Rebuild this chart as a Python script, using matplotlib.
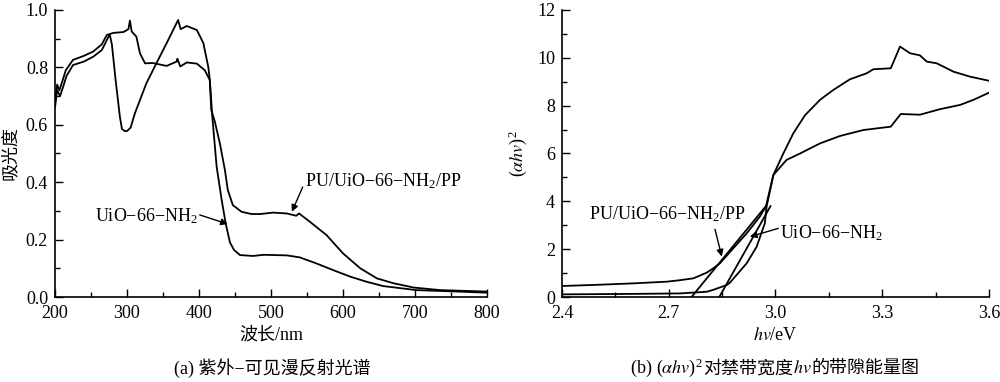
import matplotlib
matplotlib.use('Agg')
import matplotlib.pyplot as plt
from matplotlib.offsetbox import TextArea, HPacker, AnchoredOffsetbox
import numpy as np

plt.rcParams['font.family'] = ['Liberation Serif', 'Noto Sans CJK SC']
plt.rcParams['mathtext.fontset'] = 'stix'
plt.rcParams['mathtext.default'] = 'regular'
plt.rcParams['font.size'] = 13

# (a) UV-vis diffuse reflectance
wl_a = [200, 203, 206, 210, 215, 225, 240, 253, 265, 272, 276, 281, 295, 302, 304, 306.5,
        313, 318, 325, 336, 355, 369, 370, 374, 383, 397, 408, 415, 417, 422, 429, 436,
        440, 447, 459, 473, 485, 503, 522, 535, 539, 554, 577, 600, 624, 647, 670, 698,
        735, 800]
abs_a = [0.68, 0.74, 0.72, 0.75, 0.79, 0.826, 0.84, 0.855, 0.88, 0.913, 0.916, 0.92, 0.923,
         0.933, 0.963, 0.925, 0.907, 0.849, 0.814, 0.815, 0.805, 0.82, 0.83, 0.803, 0.817,
         0.813, 0.79, 0.756, 0.652, 0.611, 0.535, 0.442, 0.373, 0.32, 0.297, 0.289, 0.289,
         0.294, 0.291, 0.283, 0.291, 0.262, 0.216, 0.152, 0.10, 0.065, 0.048, 0.033, 0.024,
         0.019]

wl_b = [200, 203, 207, 211, 216, 225, 240, 253, 265, 272, 276, 279, 284, 290, 293, 297,
        300, 305, 311, 327, 341, 355, 371, 374.5, 383, 397, 406, 413, 415, 418.5, 424.5,
        431.5, 437, 443, 448.6, 457, 475, 490, 522, 540, 563, 586, 610, 633, 656, 702,
        748, 800]
abs_b = [0.66, 0.72, 0.70, 0.73, 0.77, 0.808, 0.82, 0.837, 0.86, 0.895, 0.915, 0.88, 0.76,
         0.63, 0.585, 0.578, 0.578, 0.59, 0.64, 0.745, 0.815, 0.884, 0.965, 0.933, 0.944,
         0.93, 0.885, 0.80, 0.756, 0.628, 0.454, 0.338, 0.257, 0.19, 0.164, 0.146, 0.143,
         0.147, 0.145, 0.138, 0.117, 0.094, 0.071, 0.053, 0.038, 0.024, 0.02, 0.015]

# (b) (ahv)^2 vs hv
ev_pu = [2.40, 2.50, 2.60, 2.694, 2.73, 2.769, 2.807, 2.825, 2.844, 2.881, 2.919, 2.956,
         2.973, 2.994, 3.022, 3.05, 3.083, 3.125, 3.162, 3.209, 3.256, 3.275, 3.324, 3.35,
         3.378, 3.406, 3.425, 3.453, 3.50, 3.547, 3.60]
y_pu = [0.46, 0.51, 0.57, 0.64, 0.70, 0.78, 1.02, 1.2, 1.41, 2.03, 2.66, 3.36, 3.78, 5.1,
        6.0, 6.84, 7.6, 8.24, 8.65, 9.1, 9.35, 9.52, 9.56, 10.47, 10.19, 10.1, 9.84, 9.77,
        9.42, 9.21, 9.04]

ev_uio = [2.40, 2.50, 2.60, 2.732, 2.807, 2.825, 2.863, 2.872, 2.919, 2.947, 2.97, 2.975,
          2.994, 3.031, 3.069, 3.125, 3.181, 3.247, 3.324, 3.352, 3.406, 3.462, 3.519,
          3.556, 3.60]
y_uio = [0.11, 0.12, 0.13, 0.15, 0.22, 0.3, 0.5, 0.6, 1.41, 2.1, 3.08, 3.78, 5.1, 5.73,
         6.0, 6.42, 6.73, 6.98, 7.12, 7.65, 7.62, 7.85, 8.03, 8.24, 8.54]

# tangent lines (x-intercept -> end point)
tan_pu_x = [2.764, 2.973]
tan_pu_y = [0, 3.80]
tan_uio_x = [2.842, 2.986]
tan_uio_y = [0, 3.80]

fig = plt.figure(figsize=(10, 3.82), dpi=100)
ax1 = fig.add_axes([0.055, 0.2225, 0.432, 0.7515])
ax2 = fig.add_axes([0.562, 0.2225, 0.427, 0.7515])

lw = 1.3
ax1.plot(wl_a, abs_a, color='k', lw=lw)
ax1.plot(wl_b, abs_b, color='k', lw=lw)
ax1.set_xlim(200, 800)
ax1.set_ylim(0, 1.0)
ax1.set_xticks(np.arange(200, 801, 100))
ax1.set_xticks(np.arange(200, 801, 50), minor=True)
ax1.set_yticks(np.arange(0, 1.01, 0.2))
ax1.set_yticks(np.arange(0, 1.01, 0.1), minor=True)
ax1.yaxis.set_major_formatter(matplotlib.ticker.FormatStrFormatter('%.1f'))
ax1.set_xlabel('波长/nm', labelpad=3)
ax1.set_ylabel('吸光度', labelpad=5)

arr = dict(arrowstyle='-|>', color='k', lw=1, mutation_scale=10, shrinkA=0, shrinkB=0)

# labels and arrows for panel (a)
ax1.text(547, 0.404, 'PU/UiO−66−NH$_2$/PP', ha='left', va='center')
ax1.annotate('', xy=(529, 0.297), xytext=(544, 0.383), arrowprops=arr)
ax1.text(399, 0.283, 'UiO−66−NH$_2$', ha='right', va='center')
ax1.annotate('', xy=(440, 0.254), xytext=(401, 0.286), arrowprops=arr)

ax2.plot(ev_pu, y_pu, color='k', lw=lw)
ax2.plot(ev_uio, y_uio, color='k', lw=lw)
ax2.plot(tan_pu_x, tan_pu_y, color='k', lw=lw)
ax2.plot(tan_uio_x, tan_uio_y, color='k', lw=lw)
ax2.set_xlim(2.4, 3.6)
ax2.set_ylim(0, 12)
ax2.set_xticks(np.arange(2.4, 3.61, 0.3))
ax2.set_xticks(np.arange(2.4, 3.61, 0.15), minor=True)
ax2.set_yticks(np.arange(0, 12.1, 2))
ax2.set_yticks(np.arange(0, 12.1, 1), minor=True)
ax2.xaxis.set_major_formatter(matplotlib.ticker.FormatStrFormatter('%.1f'))
ax2.set_xlabel(r'$\mathit{hv}$/eV', labelpad=3)
ax2.set_ylabel(r'$(\mathit{\alpha hv})^2$', labelpad=6)

# labels and arrows for panel (b)
ax2.text(2.695, 3.45, 'PU/UiO−66−NH$_2$/PP', ha='center', va='center')
ax2.annotate('', xy=(2.849, 1.69), xytext=(2.83, 2.83), arrowprops=arr)
ax2.text(3.012, 2.68, 'UiO−66−NH$_2$', ha='left', va='center')
ax2.annotate('', xy=(2.928, 2.52), xytext=(3.008, 2.87), arrowprops=arr)

for ax in (ax1, ax2):
    ax.spines['top'].set_visible(False)
    ax.spines['right'].set_visible(False)
    ax.spines['left'].set_linewidth(1.2)
    ax.spines['bottom'].set_linewidth(1.2)
    ax.tick_params(which='major', direction='in', length=6, width=1, labelsize=13)
    ax.tick_params(which='minor', direction='in', length=3.5, width=1)
    ax.tick_params(axis='x', which='major', pad=6)
    ax.tick_params(axis='y', which='major', pad=5)

fig.text(0.272, 1 - 368 / 382, '(a) 紫外−可见漫反射光谱', ha='center', va='center')

# caption (b): mix of mathtext and CJK text, packed side by side
parts = ['(b) ', r'$(\mathit{\alpha hv})^2$', '对禁带宽度', r'$\mathit{hv}$', '的带隙能量图']
boxes = [TextArea(p, textprops=dict(fontsize=13)) for p in parts]
pack = HPacker(children=boxes, align='baseline', pad=0, sep=0)
cap = AnchoredOffsetbox(loc='center', child=pack, frameon=False, pad=0, borderpad=0,
                        bbox_to_anchor=(0.775, 1 - 368 / 382),
                        bbox_transform=fig.transFigure)
fig.add_artist(cap)

fig.savefig('out.png', dpi=100)
